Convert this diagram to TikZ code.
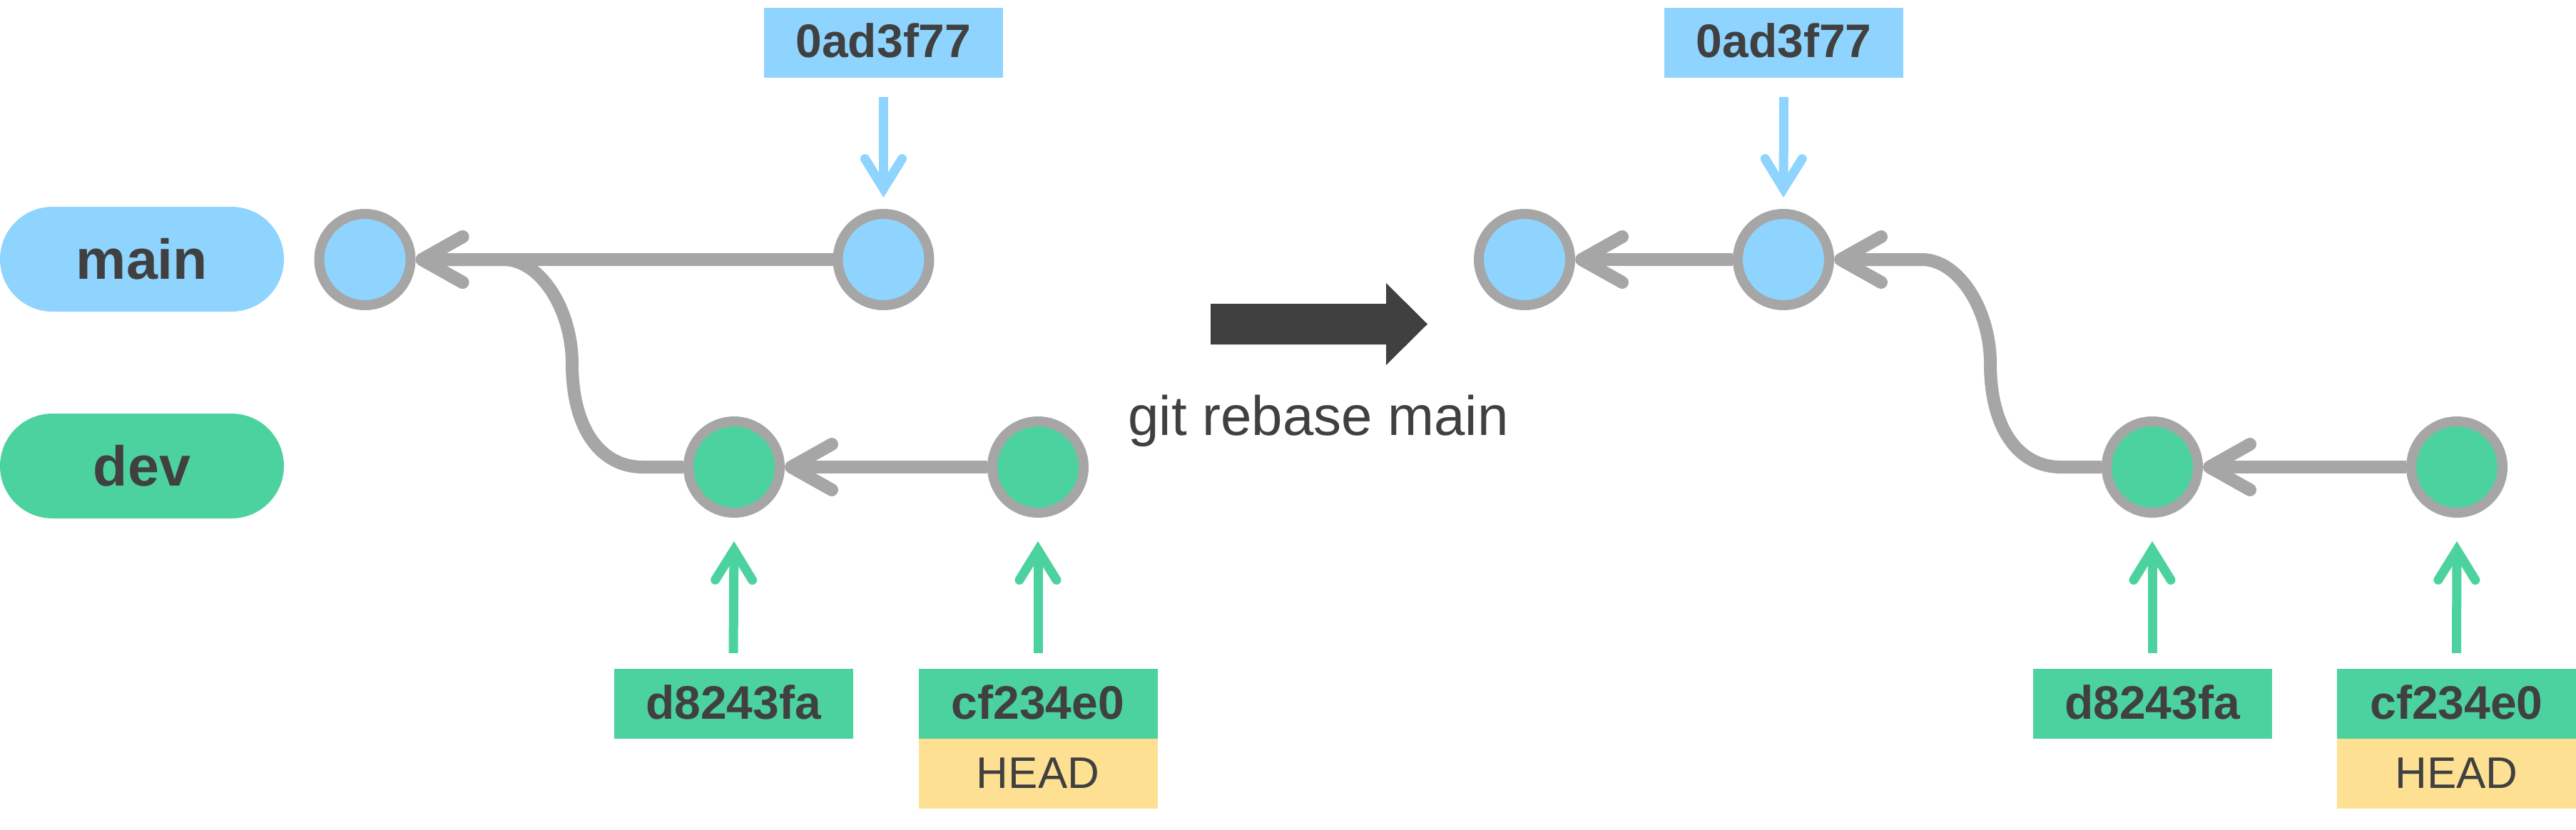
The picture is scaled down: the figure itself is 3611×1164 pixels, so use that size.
\documentclass[tikz,border=0pt]{standalone}
\usepackage{fontspec}
\setmainfont{Liberation Sans}
\usetikzlibrary{arrows.meta,calc}
\definecolor{bluefill}{HTML}{8FD4FE}
\definecolor{greenfill}{HTML}{4CD29F}
\definecolor{yellowfill}{HTML}{FDE092}
\definecolor{gline}{HTML}{A6A6A6}
\definecolor{txt}{HTML}{404040}
\newcommand\pillfont{\fontsize{79}{90}\selectfont\bfseries}
\newcommand\hashfont{\fontsize{66}{76}\selectfont\bfseries}
\newcommand\headfont{\fontsize{62}{72}\selectfont}
\newcommand\cmdfont{\fontsize{78}{90}\selectfont}
\pgfdeclarelayer{bg}
\pgfsetlayers{bg,main}
\tikzset{
  gtip/.tip={Straight Barb[length=57pt,width=64pt,round]},
  ctip/.tip={Straight Barb[length=42pt,width=52pt,sharp,line cap=round]},
  pill/.style={rectangle,rounded corners=73.5pt,minimum width=398pt,minimum height=147pt,
    inner sep=0pt,font=\pillfont,text=txt,text height=60pt,text depth=5pt},
  hashbox/.style={rectangle,minimum width=335pt,minimum height=98pt,inner sep=0pt,
    font=\hashfont,text=txt,text height=48pt,text depth=6pt},
  headbox/.style={hashbox,fill=yellowfill,font=\headfont},
  commit/.style={circle,draw=gline,line width=14pt,minimum size=128pt,inner sep=0pt,outer sep=7pt},
  gconn/.style={draw=gline,line width=18pt,-gtip},
  bconn/.style={draw=bluefill,line width=13pt,-ctip},
  grconn/.style={draw=greenfill,line width=13pt,-ctip},
}
\begin{document}
\begin{tikzpicture}[x=1pt,y=-1pt]
\useasboundingbox (0,0) rectangle (3611,1164);
% branch pills
\node[pill,fill=bluefill] (pmain) at (199,363.5) {main};
\node[pill,fill=greenfill] (pdev) at (199,653.5) {dev};
% left commits
\node[commit,fill=bluefill] (C1) at (511.5,364) {};
\node[commit,fill=bluefill] (C2) at (1238.5,364) {};
\node[commit,fill=greenfill] (G1) at (1029,655) {};
\node[commit,fill=greenfill] (G2) at (1455,655) {};
% left labels
\node[hashbox,fill=bluefill] (L1) at (1238.5,60) {0ad3f77};
\node[hashbox,fill=greenfill] (L2) at (1028,987) {d8243fa};
\node[hashbox,fill=greenfill] (L3) at (1455,987) {cf234e0};
\node[headbox] (H1) at (1455,1084.5) {HEAD};
% right commits
\node[commit,fill=bluefill] (RC1) at (2137,364) {};
\node[commit,fill=bluefill] (RC2) at (2500,364) {};
\node[commit,fill=greenfill] (RG1) at (3017,655) {};
\node[commit,fill=greenfill] (RG2) at (3444,655) {};
% right labels
\node[hashbox,fill=bluefill] (RL1) at (2500.5,60) {0ad3f77};
\node[hashbox,fill=greenfill] (RL2) at (3017,987) {d8243fa};
\node[hashbox,fill=greenfill] (RL3) at (3443.5,987) {cf234e0};
\node[headbox] (RH1) at (3443.5,1084.5) {HEAD};
% big arrow and command
\fill[txt] (1697,426) -- (1943,426) -- (1943,397) -- (2001,454.5) -- (1943,512)
  -- (1943,483) -- (1697,483) -- cycle;
\node[anchor=base,font=\cmdfont,text=txt,inner sep=0pt] (cmd) at (1848,610) {git rebase main};
% curve coordinates
\coordinate (a1) at ($(G1.center)+(-128,0)$);
\coordinate (a2) at ($(G1.center)+(-227,-145)$);
\coordinate (a3) at ($(G1.center)+(-323,-291)$);
\coordinate (b1) at ($(RG1.center)+(-128,0)$);
\coordinate (b2) at ($(RG1.center)+(-227,-145)$);
\coordinate (b3) at ($(RG1.center)+(-323,-291)$);
\begin{pgfonlayer}{bg}
  \draw[gconn] (C2.west) -- (C1.east);
  \draw[gconn] (G2.west) -- (G1.east);
  \draw[gconn] (G1.west) -- (a1) .. controls ($(a1)+(-60,0)$) and ($(a2)+(0,90)$) .. (a2)
     .. controls ($(a2)+(0,-75)$) and ($(a3)+(52,0)$) .. (a3) -- (C1.east);
  \draw[gconn] (RC2.west) -- (RC1.east);
  \draw[gconn] (RG2.west) -- (RG1.east);
  \draw[gconn] (RG1.west) -- (b1) .. controls ($(b1)+(-60,0)$) and ($(b2)+(0,90)$) .. (b2)
     .. controls ($(b2)+(0,-75)$) and ($(b3)+(52,0)$) .. (b3) -- (RC2.east);
\end{pgfonlayer}
% label pointers
\draw[bconn] ([yshift=-27pt]L1.south) -- ([yshift=16pt]C2.north);
\draw[bconn] ([yshift=-27pt]RL1.south) -- ([yshift=16pt]RC2.north);
\draw[grconn] ([yshift=22pt]L2.north) -- ([yshift=-33pt]G1.south);
\draw[grconn] ([yshift=22pt]L3.north) -- ([yshift=-33pt]G2.south);
\draw[grconn] ([yshift=22pt]RL2.north) -- ([yshift=-33pt]RG1.south);
\draw[grconn] ([yshift=22pt]RL3.north) -- ([yshift=-33pt]RG2.south);
\end{tikzpicture}
\end{document}
